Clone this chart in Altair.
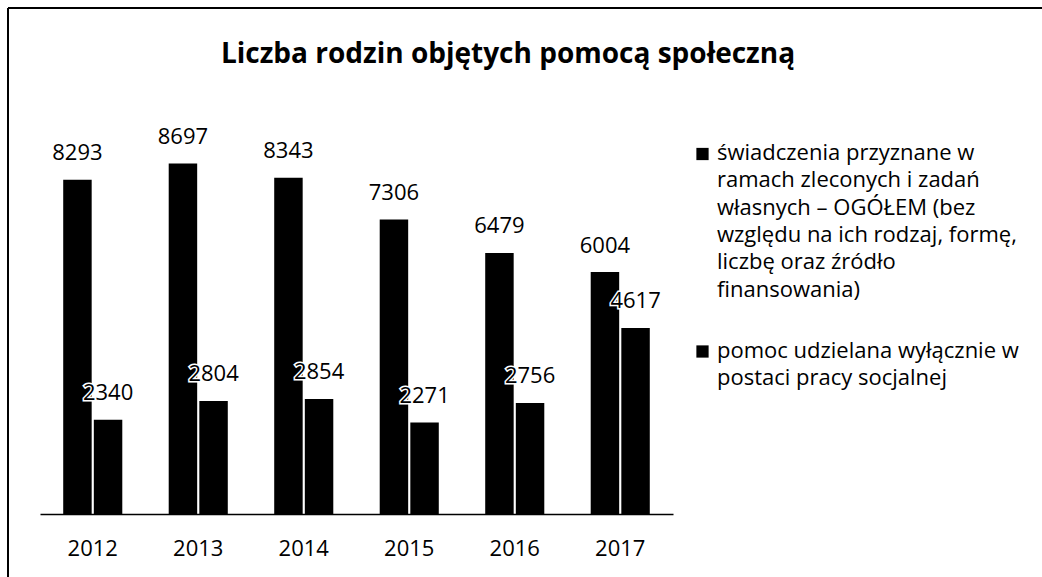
import altair as alt
import pandas as pd

years = ["2012", "2013", "2014", "2015", "2016", "2017"]
series_names = [
    "świadczenia przyznane w ramach zleconych i zadań własnych – OGÓŁEM (bez względu na ich rodzaj, formę, liczbę oraz źródło finansowania)",
    "pomoc udzielana wyłącznie w postaci pracy socjalnej",
]
legend_lines = [
    "świadczenia przyznane w\nramach zleconych i zadań\nwłasnych – OGÓŁEM (bez\nwzględu na ich rodzaj, formę,\nliczbę oraz źródło\nfinansowania)",
    "pomoc udzielana wyłącznie w\npostaci pracy socjalnej",
]
ogolem = [8293, 8697, 8343, 7306, 6479, 6004]
praca_socjalna = [2340, 2804, 2854, 2271, 2756, 4617]
title_text = "Liczba rodzin objętych pomocą społeczną"

rows = []
for i, y in enumerate(years):
    rows.append({"year": y, "series": series_names[0], "value": ogolem[i]})
    rows.append({"year": y, "series": series_names[1], "value": praca_socjalna[i]})
df = pd.DataFrame(rows)
legend_df = pd.DataFrame({"series": series_names, "label": legend_lines, "idx": [0, 1]})
title_df = pd.DataFrame({"title": [title_text]})

FONT = "Open Sans"

base = alt.Chart(df).encode(
    x=alt.X(
        "year:N",
        sort=years,
        scale=alt.Scale(paddingInner=0.44, paddingOuter=0.22),
        axis=alt.Axis(
            title=None,
            labelAngle=0,
            labelFont=FONT,
            labelFontSize=22,
            labelColor="black",
            labelPadding=24,
            ticks=False,
            domainColor="black",
            domainWidth=1.5,
            grid=False,
        ),
    ),
    xOffset=alt.XOffset("series:N", sort=series_names, scale=alt.Scale(paddingInner=0.07)),
    y=alt.Y("value:Q", scale=alt.Scale(domain=[0, 10000]), axis=None),
)

bars = base.mark_bar(color="black")
halo = base.mark_text(
    baseline="alphabetic", dy=-19.5, font=FONT, fontSize=22,
    fill="white", stroke="white", strokeWidth=3,
).encode(text="value:Q")
labels = base.mark_text(
    baseline="alphabetic", dy=-19.5, font=FONT, fontSize=22, color="black"
).encode(text="value:Q")

leg_sq1 = alt.Chart(legend_df).transform_filter("datum.idx == 0").mark_square(
    color="black", size=150, opacity=1
).encode(x=alt.value(662.5), y=alt.value(43))
leg_tx1 = alt.Chart(legend_df).transform_filter("datum.idx == 0").mark_text(
    align="left", baseline="alphabetic", font=FONT, fontSize=22, lineBreak="\n",
    lineHeight=27.3, color="black"
).encode(x=alt.value(677), y=alt.value(49), text="label:N")
leg_sq2 = alt.Chart(legend_df).transform_filter("datum.idx == 1").mark_square(
    color="black", size=150, opacity=1
).encode(x=alt.value(662.5), y=alt.value(240.5))
leg_tx2 = alt.Chart(legend_df).transform_filter("datum.idx == 1").mark_text(
    align="left", baseline="alphabetic", font=FONT, fontSize=22, lineBreak="\n",
    lineHeight=27.3, color="black"
).encode(x=alt.value(677), y=alt.value(247), text="label:N")

title = alt.Chart(title_df).mark_text(
    align="center", baseline="alphabetic", font=FONT, fontSize=28,
    fontWeight="bold", color="black"
).encode(x=alt.value(468), y=alt.value(-48), text="title:N")

# frame of the slide
frame_left = alt.Chart(title_df).mark_rule(color="black", strokeWidth=2).encode(
    x=alt.value(-32), y=alt.value(-103), y2=alt.value(600)
)
frame_top = alt.Chart(title_df).mark_rule(color="black", strokeWidth=2).encode(
    x=alt.value(-32), x2=alt.value(1100), y=alt.value(-103)
)

chart = alt.layer(
    bars, halo, labels, leg_sq1, leg_tx1, leg_sq2, leg_tx2, title, frame_left, frame_top
).properties(
    width=633,
    height=403,
    autosize=alt.AutoSizeParams(type="none"),
    padding={"left": 40, "top": 111, "right": 369, "bottom": 63},
    background="white",
).configure_view(stroke=None)

chart.save("out.html", embed_options={"renderer": "svg", "actions": False})
